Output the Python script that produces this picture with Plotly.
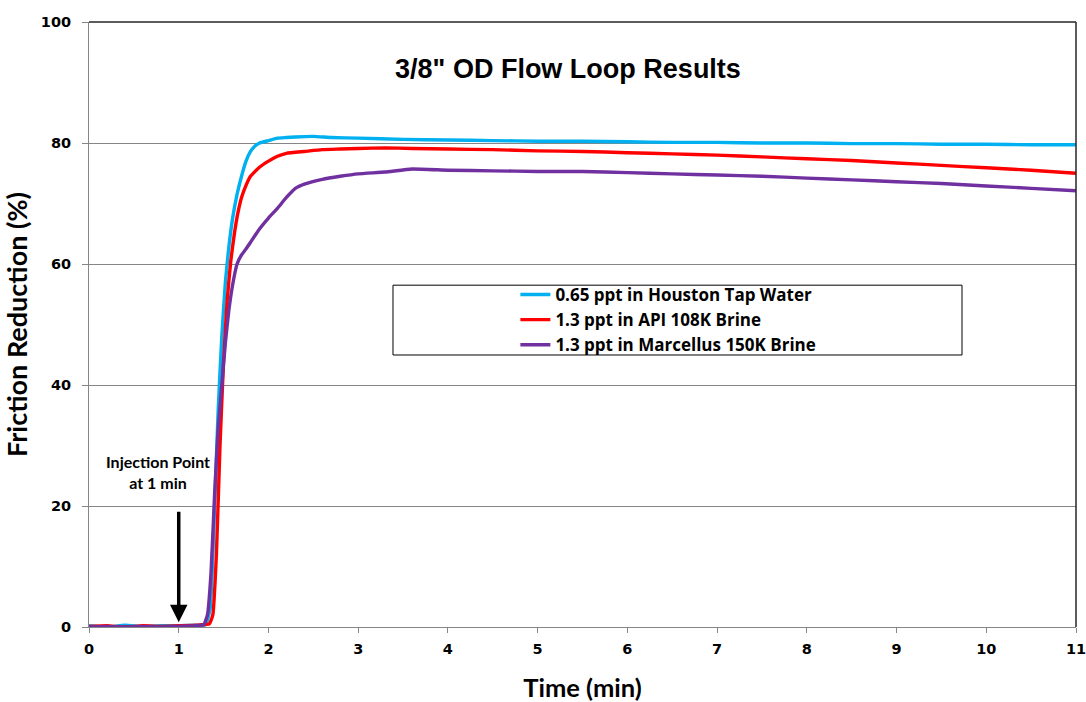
import plotly.graph_objects as go

# ---------------- data ----------------
t_blue = [0, 0.2, 0.4, 0.6, 0.8, 1.0, 1.2, 1.3, 1.35, 1.4, 1.44, 1.48, 1.52, 1.56, 1.6,
          1.65, 1.7, 1.75, 1.8, 1.85, 1.9, 2.0, 2.1, 2.2, 2.3, 2.5, 2.7, 3.0, 3.5, 4.0,
          4.5, 5.0, 5.5, 6.0, 6.5, 7.0, 7.5, 8.0, 8.5, 9.0, 9.5, 10.0, 10.5, 11.0]
fr_blue = [0.2, 0.0, 0.3, 0.1, 0.2, 0.2, 0.3, 0.4, 3, 20, 36, 48, 57, 63, 67.5,
           71.5, 74.5, 77.0, 78.6, 79.5, 80.0, 80.4, 80.8, 80.9, 81.0, 81.1, 80.9, 80.8, 80.6, 80.5,
           80.4, 80.3, 80.3, 80.2, 80.1, 80.1, 80.0, 80.0, 79.9, 79.9, 79.8, 79.8, 79.7, 79.7]

t_red = [0, 0.2, 0.4, 0.6, 0.8, 1.0, 1.2, 1.34, 1.38, 1.42, 1.46, 1.5, 1.54, 1.58, 1.62,
         1.66, 1.7, 1.75, 1.8, 1.9, 2.0, 2.1, 2.2, 2.4, 2.6, 2.8, 3.0, 3.3, 3.6, 4.0,
         4.5, 5.0, 5.5, 6.0, 6.5, 7.0, 7.5, 8.0, 8.5, 9.0, 9.5, 10.0, 10.5, 11.0]
fr_red = [0.1, 0.2, 0.0, 0.2, 0.1, 0.2, 0.3, 0.5, 2, 12, 30, 44, 54, 60.5, 65,
          68.5, 71, 73, 74.5, 76, 77, 77.8, 78.3, 78.6, 78.9, 79.0, 79.1, 79.2, 79.1, 79.0,
          78.9, 78.7, 78.6, 78.4, 78.2, 78.0, 77.7, 77.4, 77.1, 76.7, 76.3, 75.9, 75.5, 75.0]

t_purple = [0, 0.2, 0.4, 0.6, 0.8, 1.0, 1.2, 1.28, 1.32, 1.36, 1.4, 1.44, 1.48, 1.52, 1.56,
            1.6, 1.65, 1.7, 1.75, 1.8, 1.9, 2.0, 2.1, 2.2, 2.3, 2.4, 2.6, 2.8, 3.0, 3.3,
            3.6, 4.0, 4.5, 5.0, 5.5, 6.0, 6.5, 7.0, 7.5, 8.0, 8.5, 9.0, 9.5, 10.0, 10.5, 11.0]
fr_purple = [0.0, 0.1, 0.0, 0.1, 0.0, 0.1, 0.2, 0.4, 2, 9, 22, 33, 40, 47, 52.5,
             56.5, 60, 61.5, 62.5, 63.6, 65.8, 67.6, 69.2, 71.0, 72.5, 73.2, 74.0, 74.5, 74.9, 75.2,
             75.7, 75.5, 75.4, 75.3, 75.3, 75.1, 74.9, 74.7, 74.5, 74.2, 73.9, 73.6, 73.3, 72.9, 72.5, 72.1]

series_names = ["0.65 ppt in Houston Tap Water",
                "1.3 ppt in API 108K Brine",
                "1.3 ppt in Marcellus 150K Brine"]
series_colors = ["#00B0F0", "#FF0000", "#7030A0"]

x_ticks = list(range(0, 12))
y_ticks = [0, 20, 40, 60, 80, 100]

title_text = "3/8\" OD Flow Loop Results"
x_title = "Time (min)"
y_title = "Friction Reduction (%)"
inj_text = "Injection Point<br>at 1 min"
inj_time = 1.0

# ---------------- figure ----------------
fig = go.Figure()
for tx, fy, name, col in zip([t_blue, t_red, t_purple],
                             [fr_blue, fr_red, fr_purple],
                             series_names, series_colors):
    fig.add_trace(go.Scatter(x=tx, y=fy, mode="lines", name="<b>" + name + "</b>",
                             line=dict(color=col, width=3.4, shape="spline", smoothing=0.4)))

tick_font = dict(family="DejaVu Sans", size=14.5, color="black", weight="bold")

fig.update_xaxes(range=[0, 11], tickvals=x_ticks, ticks="outside", ticklen=5,
                 tickcolor="#868686", showline=True, linecolor="#868686", linewidth=1,
                 showgrid=False, zeroline=False, tickfont=tick_font, automargin=False,
                 ticklabelstandoff=4, ticklabeloverflow="allow",
                 title=dict(text="<b>" + x_title + "</b>",
                            font=dict(family="Lato", size=25.5, color="black"), standoff=22))
fig.update_yaxes(range=[0, 100], tickvals=y_ticks, ticks="outside", ticklen=6,
                 tickcolor="#868686", showline=True, linecolor="#868686", linewidth=1,
                 showgrid=True, gridcolor="#868686", gridwidth=1, zeroline=False,
                 tickfont=tick_font, automargin=False, ticklabelstandoff=8,
                 ticklabeloverflow="allow",
                 title=dict(text="<b>" + y_title + "</b>",
                            font=dict(family="Lato", size=27, color="black"), standoff=12))

# top and right frame lines
fig.add_shape(type="line", xref="paper", yref="paper", x0=0, x1=1, y0=1, y1=1,
              line=dict(color="#262626", width=1.5))
fig.add_shape(type="line", xref="paper", yref="paper", x0=1, x1=1, y0=0, y1=1,
              line=dict(color="#262626", width=1.5))

# legend box
fig.add_shape(type="rect", xref="paper", yref="paper", x0=0.308, x1=0.8845, y0=0.4496, y1=0.565,
              line=dict(color="black", width=1), fillcolor="white", layer="above")

fig.update_layout(
    width=1086, height=702,
    margin=dict(l=89, r=10, t=22, b=75),
    paper_bgcolor="white", plot_bgcolor="white",
    showlegend=True,
    legend=dict(x=0.432, y=0.5074, xanchor="left", yanchor="middle",
                bgcolor="rgba(0,0,0,0)", borderwidth=0,
                font=dict(family="Open Sans", size=17, color="black"),
                tracegroupgap=0, itemwidth=30),
    title=dict(text="<b>" + title_text + "</b>", xref="container", x=0.523, y=0.903,
               xanchor="center", yanchor="middle",
               font=dict(family="Liberation Sans", size=27, color="black")),
)

fig.add_annotation(x=0.77, y=25.6, xref="x", yref="y", text="<b>" + inj_text + "</b>",
                   showarrow=False, font=dict(family="Lato", size=16, color="black"),
                   align="center")
fig.add_annotation(x=inj_time, y=0.8, ax=inj_time, ay=19.3, xref="x", yref="y",
                   axref="x", ayref="y", text="", showarrow=True, arrowhead=2,
                   arrowsize=1, arrowwidth=3.5, arrowcolor="black")

fig.write_html("out.html", config={"displayModeBar": False},
               post_script="document.body.style.margin='0';document.body.style.overflow='hidden';")
